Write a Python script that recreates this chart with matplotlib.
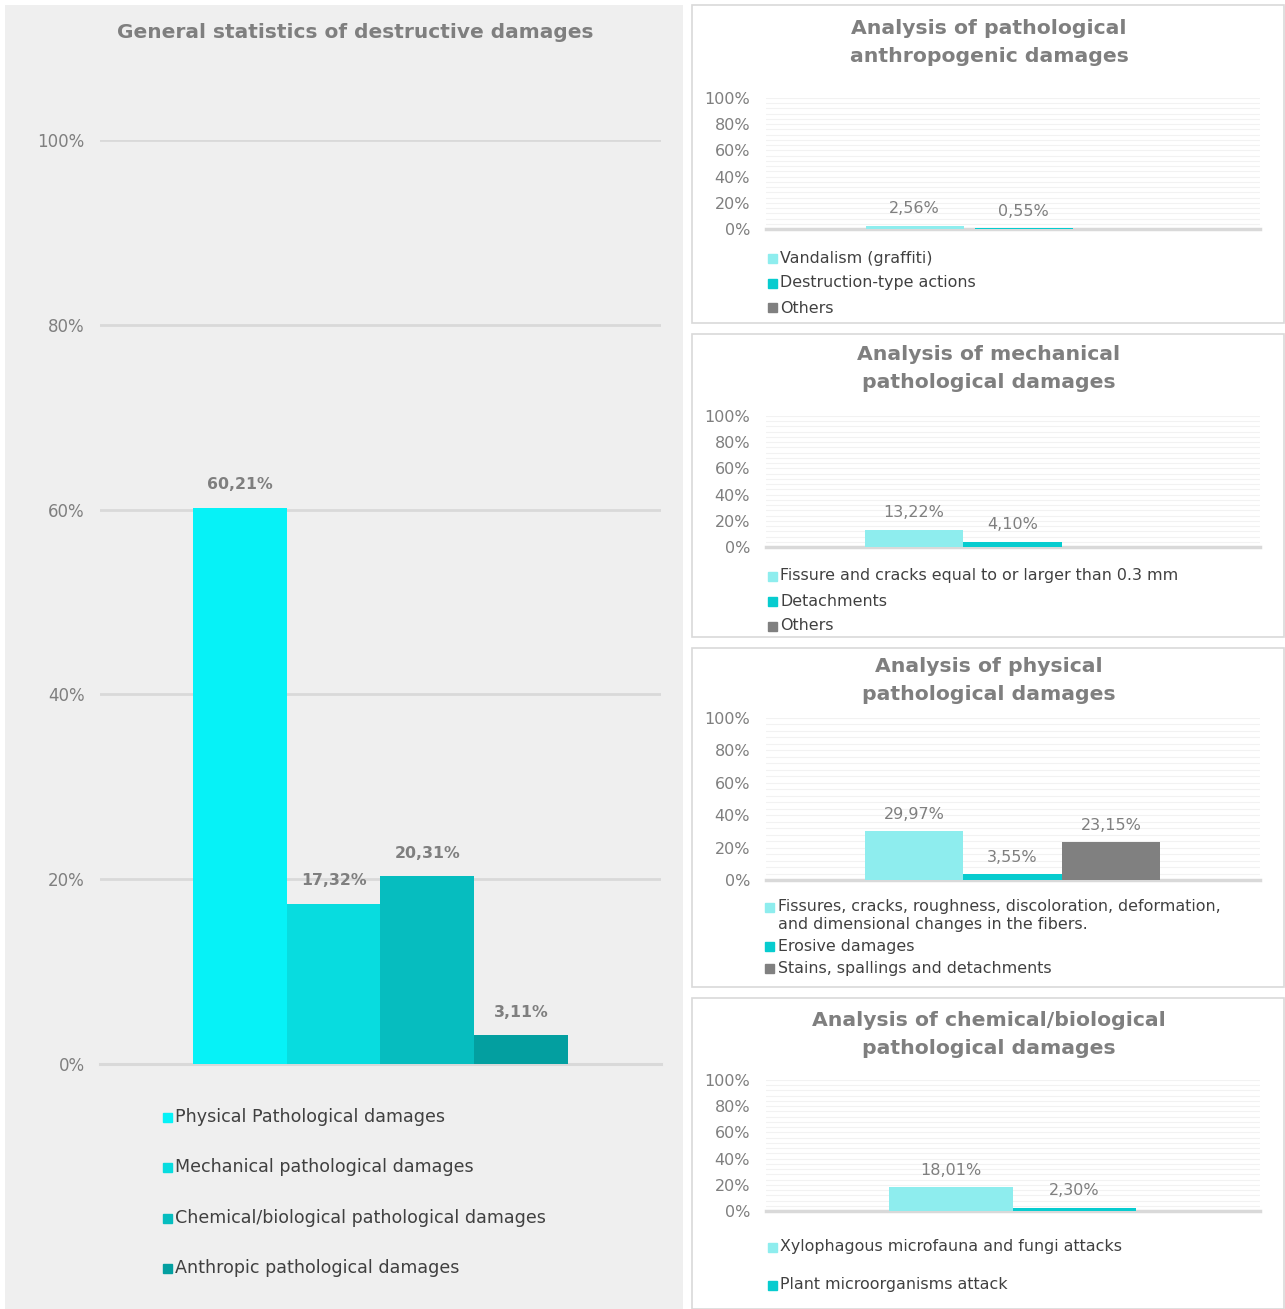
import numpy as np
import matplotlib
matplotlib.use("Agg")
import matplotlib.pyplot as plt
from matplotlib.patches import Rectangle

# ── data ────────────────────────────────────────────────────────────────────
main_labels = ["Physical Pathological damages", "Mechanical pathological damages",
               "Chemical/biological pathological damages", "Anthropic pathological damages"]
main_values = [60.21, 17.32, 20.31, 3.11]

anthro_labels = ["Vandalism (graffiti)", "Destruction-type actions", "Others"]
anthro_values = [2.56, 0.55, None]

mech_labels = ["Fissure and cracks equal to or larger than 0.3 mm", "Detachments", "Others"]
mech_values = [13.22, 4.10, None]

phys_labels = ["Fissures, cracks, roughness, discoloration, deformation,\nand dimensional changes in the fibers.",
               "Erosive damages", "Stains, spallings and detachments"]
phys_values = [29.97, 3.55, 23.15]

chem_labels = ["Xylophagous microfauna and fungi attacks", "Plant microorganisms attack"]
chem_values = [18.01, 2.30]

yticks = [0, 20, 40, 60, 80, 100]

# ── style ───────────────────────────────────────────────────────────────────
plt.rcParams['font.family'] = ['DejaVu Sans']
W, H = 1285, 1309
GREY = '#7f7f7f'
TXT = '#404040'
main_colors = ['#06f2f7', '#08dcdf', '#06bdbf', '#039fa0']
sub_colors = ['#8eedee', '#07cccf', '#808080']

fig = plt.figure(figsize=(W / 100, H / 100), dpi=100)
fig.patch.set_facecolor('white')


def fx(x):
    return x / W


def fy(y):
    return 1 - y / H


def box(x0, y0, x1, y1, face, edge=None):
    fig.patches.append(Rectangle((fx(x0), fy(y1)), fx(x1 - x0), (y1 - y0) / H,
                                 transform=fig.transFigure, facecolor=face,
                                 edgecolor=edge if edge else 'none', lw=1.2, zorder=-5))


def make_axes(x0, y0, x1, y1):
    ax = fig.add_axes([fx(x0), fy(y1), fx(x1 - x0), (y1 - y0) / H])
    ax.patch.set_alpha(0)
    for s in ax.spines.values():
        s.set_visible(False)
    ax.set_xticks([])
    ax.tick_params(axis='y', length=0, colors=GREY)
    ax.set_yticks(yticks)
    ax.set_yticklabels([f"{t}%" for t in yticks])
    return ax


def legend(x, ys, labels, colors, size, sq=9, line_h=18):
    for y, lab, c in zip(ys, labels, colors):
        fig.patches.append(Rectangle((fx(x - sq / 2), fy(y + sq / 2)), sq / W, sq / H,
                                     transform=fig.transFigure, color=c, zorder=3))
        for i, line in enumerate(lab.split('\n')):
            fig.text(fx(x + sq / 2 + 4), fy(y + i * line_h), line, fontsize=size,
                     color=TXT, va='center', ha='left')


# ── left: general statistics ───────────────────────────────────────────────
box(5, 5, 683, 1309, '#efefef')
fig.text(fx(355), fy(33), "General statistics of destructive damages", fontsize=14.5,
         fontweight='bold', color=GREY, ha='center', va='center')

ax = make_axes(100, 140, 661, 1064)
ax.set_ylim(0, 100)
ax.tick_params(axis='y', labelsize=12, pad=11)
ax.grid(axis='y', color='#d9d9d9', lw=2)
ax.set_axisbelow(True)
ax.axhline(0, color='#d9d9d9', lw=2.2, zorder=1, clip_on=False)
pos = np.arange(len(main_values)) - (len(main_values) - 1) / 2
ax.set_xlim(-2.985, 2.985)
bars = ax.bar(pos, main_values, width=1.0, color=main_colors, zorder=2)
for b, v in zip(bars, main_values):
    ax.annotate(f"{v:.2f}%".replace('.', ','), (b.get_x() + b.get_width() / 2, v),
                xytext=(0, 23), textcoords='offset pixels', ha='center', va='center',
                fontsize=11.3, fontweight='bold', color=GREY)
legend(167, [1117, 1167, 1218, 1268], main_labels, main_colors, 12.6)


# ── right: small panels ────────────────────────────────────────────────────
def sub_panel(top, bot, title_ys, title, ax_top, ax_bot, values, labels,
              gap, width_units, center_px, leg_x, leg_ys, leg_size=11.4):
    box(692, top, 1284, bot, 'white', '#d9d9d9')
    for ty, line in zip(title_ys, title.split('\n')):
        fig.text(fx(989), fy(ty), line, fontsize=14.7, fontweight='bold',
                 color=GREY, ha='center', va='center')
    a = make_axes(766, ax_top, 1260, ax_bot)
    a.set_ylim(0, 100)
    a.tick_params(axis='y', labelsize=11.5, pad=11.5)
    a.set_yticks(np.arange(0, 101, 4), minor=True)
    a.tick_params(axis='y', which='minor', length=0)
    a.grid(axis='y', which='both', color='#f2f2f2', lw=0.8)
    a.set_axisbelow(True)
    a.axhline(0, color='#d9d9d9', lw=2.5, zorder=1, clip_on=False)
    n = len(values)
    pos = (np.arange(n) - (n - 1) / 2) * (1 + gap)
    pxu = 494 / width_units
    left = -(center_px - 766) / pxu
    a.set_xlim(left, left + width_units)
    for p, v, c in zip(pos, values, sub_colors):
        if v is None:
            continue
        a.bar(p, v, width=1.0, color=c, zorder=2)
        a.annotate(f"{v:.2f}%".replace('.', ','), (p, v), xytext=(0, 17),
                   textcoords='offset pixels', ha='center', va='center',
                   fontsize=11.5, color=GREY)
    legend(leg_x, leg_ys, labels, sub_colors, leg_size)
    return a


sub_panel(5, 323, [28, 56], "Analysis of pathological\nanthropogenic damages", 98, 229,
          anthro_values, anthro_labels, 0.11, 494 / 98, 1023.5, 772, [258, 283, 308])
sub_panel(334, 637, [354, 383], "Analysis of mechanical\npathological damages", 416, 547,
          mech_values, mech_labels, 0.0, 494 / 98.5, 1012.5, 772, [576, 601, 626])
sub_panel(648, 987, [667, 695], "Analysis of physical\npathological damages", 718, 880,
          phys_values, phys_labels, 0.0, 494 / 98.5, 1012.5, 769, [907, 946, 968])
sub_panel(998, 1309, [1020, 1048], "Analysis of chemical/biological\npathological damages", 1080, 1211,
          chem_values, chem_labels, 0.0, 494 / 123.5, 1012.5, 772, [1247, 1285])

fig.savefig('out.png', dpi=100)
